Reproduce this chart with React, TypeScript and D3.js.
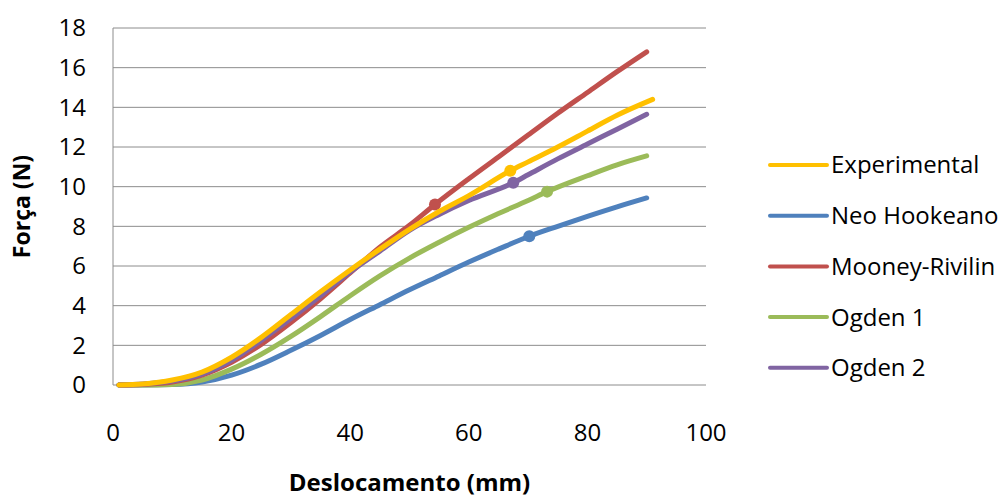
import React from 'react'
import * as d3 from 'd3'

type Pt = [number, number]

const experimental: Pt[] = [
  [1, 0], [5, 0.05], [10, 0.25], [15, 0.65], [20, 1.4], [25, 2.4], [30, 3.55], [35, 4.7],
  [40, 5.8], [45, 6.85], [50, 7.85], [55, 8.75], [60, 9.55], [67, 10.8], [70, 11.25],
  [75, 12.0], [80, 12.8], [85, 13.6], [91, 14.4],
]
const neoHookeano: Pt[] = [
  [1, 0], [5, 0], [10, 0.02], [15, 0.15], [20, 0.5], [25, 1.05], [30, 1.75], [35, 2.5],
  [40, 3.3], [45, 4.05], [50, 4.8], [55, 5.5], [60, 6.2], [65, 6.85], [70.2, 7.5],
  [75, 8.0], [80, 8.5], [85, 8.98], [90, 9.43],
]
const mooneyRivilin: Pt[] = [
  [1, 0], [5, 0.03], [10, 0.15], [15, 0.5], [20, 1.15], [25, 2.05], [30, 3.15], [35, 4.35],
  [40, 5.65], [45, 6.95], [50, 8.05], [54.3, 9.1], [60, 10.4], [65, 11.5], [70, 12.6],
  [75, 13.7], [80, 14.75], [85, 15.8], [90, 16.8],
]
const ogden1: Pt[] = [
  [1, 0], [5, 0], [10, 0.03], [15, 0.25], [20, 0.8], [25, 1.55], [30, 2.45], [35, 3.45],
  [40, 4.5], [45, 5.5], [50, 6.4], [55, 7.2], [60, 7.95], [65, 8.65], [70, 9.3],
  [73.2, 9.75], [80, 10.55], [85, 11.1], [90, 11.55],
]
const ogden2: Pt[] = [
  [1, 0], [5, 0.05], [10, 0.2], [15, 0.55], [20, 1.25], [25, 2.25], [30, 3.35], [35, 4.5],
  [40, 5.7], [45, 6.75], [50, 7.8], [55, 8.6], [60, 9.3], [67.5, 10.2], [70, 10.6],
  [75, 11.4], [80, 12.15], [85, 12.9], [90, 13.65],
]

// highlighted point of each series
const markers: Pt[] = [[67, 10.8], [70.2, 7.5], [54.3, 9.1], [73.2, 9.75], [67.5, 10.2]]

const names = ['Experimental', 'Neo Hookeano', 'Mooney-Rivilin', 'Ogden 1', 'Ogden 2']
const colors = ['#FFC000', '#4F81BD', '#C0504D', '#9BBB59', '#8064A2']
const seriesData = [experimental, neoHookeano, mooneyRivilin, ogden1, ogden2]

const xTicks = [0, 20, 40, 60, 80, 100]
const yTicks = [0, 2, 4, 6, 8, 10, 12, 14, 16, 18]

const W = 1004
const H = 497
const margin = {left: 113, right: 298, top: 28, bottom: 112}

const font = "'Open Sans', sans-serif"

export default function App() {
  const x = d3.scaleLinear().domain([0, 100]).range([margin.left, W - margin.right])
  const y = d3.scaleLinear().domain([0, 18]).range([H - margin.bottom, margin.top])

  const line = d3.line<Pt>()
    .x(d => x(d[0]))
    .y(d => y(d[1]))
    .curve(d3.curveMonotoneX)

  // draw order so the overlaps look like the picture
  const order = [1, 3, 2, 4, 0]

  return (
    <svg width={W} height={H} style={{position: 'absolute', left: 0, top: 0, background: '#fff'}}
      fontFamily={font}>
      {yTicks.map(t => (
        <g key={t}>
          <line x1={x(0)} x2={x(100)} y1={y(t)} y2={y(t)} stroke="#8c8c8c" strokeWidth={1} />
          <text x={86} y={y(t)} dy="0.35em" textAnchor="end" fontSize={24} fill="#000">{t}</text>
        </g>
      ))}
      <line x1={x(0)} x2={x(0)} y1={y(0)} y2={y(18)} stroke="#8c8c8c" strokeWidth={1} />
      {xTicks.map(t => (
        <text key={t} x={x(t)} y={441} textAnchor="middle" fontSize={24} fill="#000">{t}</text>
      ))}

      {order.map(i => (
        <g key={names[i]}>
          <path d={line(seriesData[i]) ?? ''} fill="none" stroke={colors[i]} strokeWidth={5}
            strokeLinecap="round" strokeLinejoin="round" />
          <circle cx={x(markers[i][0])} cy={y(markers[i][1])} r={6} fill={colors[i]} />
        </g>
      ))}

      <text transform={`translate(30,${(y(0) + y(18)) / 2}) rotate(-90)`} textAnchor="middle"
        fontSize={23} fontWeight="bold" fill="#000">Força (N)</text>
      <text x={(x(0) + x(100)) / 2} y={491} textAnchor="middle" fontSize={24} fontWeight="bold"
        fill="#000">Deslocamento (mm)</text>

      {names.map((n, i) => {
        const ly = 165 + i * 50.7
        return (
          <g key={n}>
            <line x1={770} x2={827} y1={ly} y2={ly} stroke={colors[i]} strokeWidth={4}
              strokeLinecap="round" />
            <text x={831} y={ly} dy="0.35em" fontSize={24} fill="#000">{n}</text>
          </g>
        )
      })}
    </svg>
  )
}
